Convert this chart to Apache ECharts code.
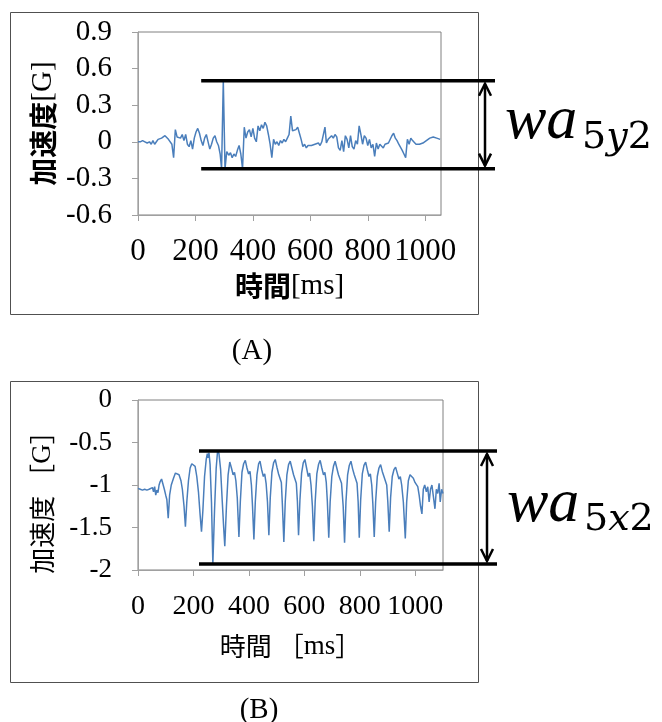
<!DOCTYPE html>
<html>
<head>
<meta charset="utf-8">
<script src="https://cdn.jsdelivr.net/npm/echarts@6/dist/echarts.min.js"></script>
<style>
  html, body { margin: 0; padding: 0; background: #ffffff; }
  #chart { width: 662px; height: 722px; }
</style>
</head>
<body>
<div id="chart"></div>
<script>
// Panel (A): vertical acceleration [G] against time [ms]
const panelA = [
  [0,0.0],[8,0.0],[16,0.01],[24,0.0],[32,-0.01],[40,0.0],[46,-0.02],[52,0.01],[58,-0.02],[64,0.0],
  [70,0.02],[76,0.01],[82,0.03],[88,0.02],[94,0.05],[100,0.04],[106,0.02],[112,0.01],[118,-0.02],[124,-0.13],
  [130,0.1],[136,0.04],[142,0.05],[148,0.03],[154,0.06],[160,0.01],[166,0.06],[172,-0.02],[178,-0.04],[184,0.01],
  [190,-0.06],[196,0.03],[202,0.08],[208,0.11],[214,0.07],[220,0.01],[226,-0.03],[232,0.03],[238,0.06],[244,0.0],
  [250,-0.06],[256,-0.02],[262,0.03],[268,0.05],[274,0.0],[280,-0.03],[286,-0.1],[291,-0.22],[297,0.5],[303,-0.22],
  [309,-0.08],[316,-0.11],[322,-0.09],[328,-0.13],[334,-0.1],[340,-0.12],[346,-0.07],[352,-0.03],[358,-0.1],[364,-0.22],
  [370,0.12],[376,0.03],[382,0.08],[388,0.1],[394,0.04],[400,0.11],[406,0.03],[412,0.0],[418,0.13],[424,0.09],
  [430,0.14],[436,0.11],[442,0.16],[448,0.13],[454,0.06],[460,-0.02],[466,-0.13],[472,0.02],[478,-0.02],[484,0.0],
  [490,-0.03],[496,0.01],[502,-0.01],[508,0.02],[514,0.0],[520,0.03],[526,0.06],[532,0.21],[538,0.09],[544,0.08],
  [550,0.1],[556,0.12],[562,0.07],[568,0.02],[574,-0.04],[580,-0.02],[586,-0.05],[592,-0.03],[598,-0.04],[604,-0.03],
  [610,-0.04],[616,-0.02],[622,-0.03],[628,-0.01],[634,-0.03],[640,0.0],[646,0.01],[651,0.12],[656,-0.01],[662,0.02],
  [668,0.03],[674,0.05],[680,0.03],[686,0.06],[692,0.04],[698,-0.05],[704,-0.07],[710,0.01],[716,-0.08],[722,0.05],
  [728,0.02],[734,-0.05],[740,0.05],[746,-0.04],[752,-0.06],[758,0.01],[764,-0.02],[770,0.13],[776,0.06],[782,-0.02],
  [788,0.05],[794,0.03],[800,-0.03],[806,0.02],[812,-0.05],[818,-0.02],[824,-0.12],[830,-0.01],[836,-0.06],[842,-0.02],
  [848,-0.03],[854,-0.05],[860,-0.02],[866,-0.03],[872,-0.01],[878,0.0],[884,0.05],[890,0.07],[896,0.03],[902,0.01],
  [908,-0.02],[914,-0.03],[920,-0.07],[926,-0.1],[932,-0.13],[938,0.02],[944,-0.02],[950,0.03],[956,0.01],[962,0.02],
  [968,-0.02],[974,-0.03],[980,-0.02],[986,-0.02],[992,-0.01],[998,0.0],[1004,0.01],[1010,0.02],[1016,0.03],[1022,0.04],
  [1028,0.04],[1034,0.04],[1040,0.03],[1046,0.02],[1052,0.02]
];

// Panel (B): lateral acceleration [G] against time [ms]
const panelB = [
  [0,-1.04],[8,-1.05],[16,-1.06],[24,-1.05],[32,-1.06],[40,-1.05],[46,-1.07],[52,-1.03],[56,-1.08],[60,-1.02],
  [64,-1.12],[68,-1.06],[72,-1.09],[76,-1.0],[80,-0.96],[85,-0.93],[90,-0.95],[95,-1.05],[100,-1.12],[104,-1.17],
  [109,-1.39],[114,-1.12],[120,-1.0],[128,-0.92],[135,-0.86],[141,-0.84],[148,-0.88],[155,-0.95],[160,-1.05],[166,-1.25],
  [171,-1.49],[176,-1.2],[182,-0.95],[188,-0.8],[194,-0.75],[200,-0.73],[206,-0.78],[212,-0.9],[218,-1.08],[224,-1.35],
  [229,-1.55],[234,-1.3],[240,-0.9],[246,-0.7],[250,-0.63],[253,-0.68],[256,-0.62],[260,-0.76],[265,-1.2],[270,-1.93],
  [276,-1.3],[282,-0.8],[287,-0.6],[292,-0.63],[298,-0.82],[304,-1.2],[309,-1.5],[313,-1.72],[319,-1.25],[325,-0.88],
  [331,-0.73],[337,-0.8],[343,-0.88],[348,-0.85],[353,-0.95],[358,-1.15],[364,-1.61],[369,-1.2],[375,-0.85],[381,-0.75],
  [387,-0.71],[393,-0.8],[399,-0.87],[404,-0.84],[409,-1.0],[413,-1.25],[418,-1.64],[423,-1.2],[429,-0.88],[435,-0.75],
  [440,-0.72],[446,-0.82],[452,-0.9],[457,-0.87],[462,-0.98],[467,-1.2],[472,-1.59],[477,-1.15],[483,-0.85],[489,-0.74],
  [495,-0.7],[501,-0.79],[507,-0.87],[512,-0.85],[517,-0.97],[521,-1.25],[526,-1.67],[531,-1.2],[537,-0.88],[543,-0.76],
  [549,-0.72],[555,-0.8],[561,-0.88],[566,-0.86],[571,-0.98],[575,-1.2],[579,-1.59],[584,-1.18],[590,-0.86],[596,-0.74],
  [602,-0.7],[608,-0.8],[614,-0.9],[619,-0.86],[624,-1.0],[629,-1.25],[634,-1.66],[639,-1.2],[645,-0.87],[651,-0.76],
  [657,-0.71],[663,-0.8],[669,-0.88],[674,-0.85],[679,-0.97],[683,-1.2],[688,-1.62],[693,-1.2],[699,-0.9],[705,-0.78],
  [711,-0.72],[717,-0.8],[723,-0.88],[728,-0.86],[734,-0.98],[740,-1.25],[745,-1.68],[750,-1.2],[756,-0.88],[762,-0.77],
  [768,-0.72],[774,-0.81],[780,-0.88],[785,-0.86],[790,-0.98],[794,-1.2],[798,-1.62],[803,-1.18],[809,-0.87],[815,-0.77],
  [821,-0.73],[827,-0.82],[833,-0.9],[838,-0.87],[843,-1.0],[847,-1.22],[852,-1.61],[857,-1.2],[863,-0.9],[869,-0.8],
  [875,-0.76],[881,-0.84],[887,-0.9],[892,-0.88],[897,-1.0],[901,-1.2],[906,-1.55],[911,-1.15],[917,-0.9],[923,-0.82],
  [929,-0.79],[935,-0.86],[941,-0.93],[946,-0.9],[951,-1.0],[957,-1.2],[964,-1.63],[969,-1.2],[975,-0.95],[981,-0.88],
  [987,-0.86],[993,-0.92],[999,-0.97],[1004,-0.95],[1009,-1.02],[1014,-1.12],[1019,-1.25],[1024,-1.34],[1029,-1.05],[1034,-1.0],
  [1040,-1.08],[1045,-1.02],[1050,-1.2],[1055,-1.05],[1060,-1.0],[1066,-0.98],[1071,-1.28],[1076,-1.05],[1081,-1.1],[1086,-0.98],
  [1090,-1.2],[1095,-1.05],[1100,-1.1]
];

const timeTicks = [0, 200, 400, 600, 800, 1000];
const rangeStartMs = 220;          // where the peak-to-peak bars begin
const rangeLabels = [
  { main: 'wa', sub: ['5', 'y', '2'] },
  { main: 'wa', sub: ['5', 'x', '2'] }
];
const panelCaptions = ['(A)', '(B)'];

const SERIF = 'Liberation Serif';
const GOTHIC = 'Noto Sans CJK JP';
const LINE_BLUE = '#4a7ebb';
const AXIS_GREY = '#a0a0a0';

const chart = echarts.init(document.getElementById('chart'), null, { renderer: 'canvas' });

const plainNumber = v => String(parseFloat(Number(v).toFixed(3)));

function timeAxis(gridIndex, max, fontSize, margin, name, nameGap, rich) {
  return {
    gridIndex, type: 'value', min: 0, max,
    axisLine: { show: true, onZero: false, lineStyle: { color: AXIS_GREY, width: 1 } },
    axisTick: { show: true, length: 6, customValues: timeTicks, lineStyle: { color: AXIS_GREY } },
    axisLabel: { customValues: timeTicks, fontFamily: SERIF, fontSize, color: '#000', margin, formatter: plainNumber },
    splitLine: { show: false },
    name, nameLocation: 'middle', nameGap,
    nameTextStyle: { rich }
  };
}

function accelAxis(gridIndex, min, max, interval, fontSize, name, nameGap, rich, padding) {
  return {
    gridIndex, type: 'value', min, max, interval,
    axisLine: { show: true, onZero: false, lineStyle: { color: AXIS_GREY, width: 1 } },
    axisTick: { show: true, length: 6, lineStyle: { color: AXIS_GREY } },
    axisLabel: { fontFamily: SERIF, fontSize, color: '#000', margin: 26, formatter: plainNumber },
    splitLine: { show: false },
    name, nameLocation: 'middle', nameGap, nameRotate: 90,
    nameTextStyle: { rich, padding }
  };
}

const boldName = {
  a: { fontFamily: GOTHIC, fontWeight: 'bold', fontSize: 28, color: '#000' },
  b: { fontFamily: SERIF, fontSize: 29, color: '#000' }
};
const thinName = {
  a: { fontFamily: GOTHIC, fontWeight: 'normal', fontSize: 26, color: '#000' },
  b: { fontFamily: SERIF, fontSize: 27, color: '#000' }
};

chart.setOption({
  animation: false,
  backgroundColor: '#ffffff',
  grid: [
    { left: 138, top: 32, width: 303, height: 183, show: true, borderColor: '#808080', borderWidth: 1 },
    { left: 138, top: 400, width: 305, height: 170, show: true, borderColor: '#808080', borderWidth: 1 }
  ],
  xAxis: [
    timeAxis(0, 1055, 31, 21, '{a|時間}{b|[ms]}', 57, boldName),
    timeAxis(1, 1100, 28, 23, '{a|時間 ［}{b|ms}{a|］}', 63, thinName)
  ],
  yAxis: [
    accelAxis(0, -0.6, 0.9, 0.3, 29, '{a|加速度}{b|[G]}', 80, boldName, 0),
    accelAxis(1, -2, 0, 0.5, 27, '{a|加速度 ［}{b|G}{a|］}', 82, thinName, [0, 22, 0, 0])
  ],
  series: [
    { type: 'line', xAxisIndex: 0, yAxisIndex: 0, data: panelA, showSymbol: false,
      lineStyle: { color: LINE_BLUE, width: 1.5 }, itemStyle: { color: LINE_BLUE } },
    { type: 'line', xAxisIndex: 1, yAxisIndex: 1, data: panelB, showSymbol: false,
      lineStyle: { color: LINE_BLUE, width: 1.5 }, itemStyle: { color: LINE_BLUE } }
  ]
});

// Peak-to-peak bars, double arrow and label to the right of each plot
function rangeGraphics(idx, data, xMax, label) {
  const vals = data.map(d => d[1]);
  const hi = Math.max(...vals);
  const lo = Math.min(...vals);
  const finder = { gridIndex: idx };
  const pHi = chart.convertToPixel(finder, [rangeStartMs, hi]);
  const pLo = chart.convertToPixel(finder, [rangeStartMs, lo]);
  const right = chart.convertToPixel(finder, [xMax, hi])[0];
  const xEnd = right + 54;
  const ax = right + 44;
  const mid = (pHi[1] + pLo[1]) / 2;
  const solid = { stroke: '#000', lineWidth: 3.5 };
  const thin = { stroke: '#000', lineWidth: 2.5, fill: 'none' };
  return [
    { type: 'line', shape: { x1: pHi[0], y1: pHi[1], x2: xEnd, y2: pHi[1] }, style: solid, z: 10 },
    { type: 'line', shape: { x1: pLo[0], y1: pLo[1], x2: xEnd, y2: pLo[1] }, style: solid, z: 10 },
    { type: 'line', shape: { x1: ax, y1: pHi[1] + 3, x2: ax, y2: pLo[1] - 3 }, style: thin, z: 10 },
    { type: 'polyline', shape: { points: [[ax - 6, pHi[1] + 15], [ax, pHi[1] + 3], [ax + 6, pHi[1] + 15]] }, style: thin, z: 10 },
    { type: 'polyline', shape: { points: [[ax - 6, pLo[1] - 15], [ax, pLo[1] - 3], [ax + 6, pLo[1] - 15]] }, style: thin, z: 10 },
    { type: 'text', x: right + 64, y: mid - 3, z: 10,
      style: { text: label.main, font: 'italic 62px "Liberation Serif"', fill: '#000',
               align: 'left', verticalAlign: 'middle', textAlign: 'left', textVerticalAlign: 'middle' } },
    { type: 'text', x: right + 141, y: mid + 13, z: 10,
      style: { text: '{d|' + label.sub[0] + '}{i|' + label.sub[1] + '}{d|' + label.sub[2] + '}',
               rich: {
                 d: { fontFamily: 'DejaVu Serif', fontSize: 38, fill: '#000', color: '#000' },
                 i: { fontFamily: 'DejaVu Serif', fontStyle: 'italic', fontSize: 38, fill: '#000', color: '#000' }
               },
               fill: '#000', align: 'left', verticalAlign: 'middle', textAlign: 'left', textVerticalAlign: 'middle' } }
  ];
}

const frames = [
  { type: 'rect', shape: { x: 10.5, y: 12.5, width: 468, height: 302 }, style: { fill: 'none', stroke: '#505050', lineWidth: 1 } },
  { type: 'rect', shape: { x: 10.5, y: 381.5, width: 468, height: 301 }, style: { fill: 'none', stroke: '#505050', lineWidth: 1 } },
  { type: 'text', x: 252, y: 351, style: { text: panelCaptions[0], font: '29px "Liberation Serif"', fill: '#000',
      align: 'center', verticalAlign: 'middle', textAlign: 'center', textVerticalAlign: 'middle' } },
  { type: 'text', x: 259, y: 710, style: { text: panelCaptions[1], font: '29px "Liberation Serif"', fill: '#000',
      align: 'center', verticalAlign: 'middle', textAlign: 'center', textVerticalAlign: 'middle' } }
];

chart.setOption({
  graphic: frames
    .concat(rangeGraphics(0, panelA, 1055, rangeLabels[0]))
    .concat(rangeGraphics(1, panelB, 1100, rangeLabels[1]))
});
</script>
</body>
</html>
